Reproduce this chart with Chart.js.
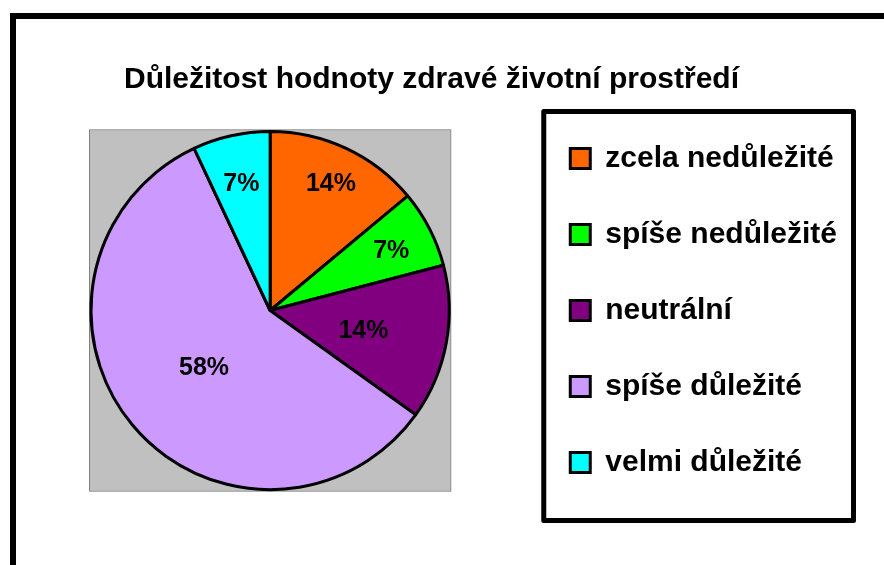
<!DOCTYPE html>
<html>
<head>
<meta charset="utf-8">
<script src="https://cdn.jsdelivr.net/npm/chart.js@4"></script>
<style>
  html, body { margin: 0; padding: 0; background: #fff; }
  #wrap { width: 884px; height: 565px; }
</style>
</head>
<body>
<div id="wrap"><canvas id="chart"></canvas></div>
<script>
const categories = [
  "zcela nedůležité",
  "spíše nedůležité",
  "neutrální",
  "spíše důležité",
  "velmi důležité",
];
// respondent counts (43 total) -> 14%, 7%, 14%, 58%, 7%
const counts = [6, 3, 6, 25, 3];
const sliceColors = ["#FF6600", "#00FF00", "#800080", "#CC99FF", "#00FFFF"];
const chartTitle = "Důležitost hodnoty zdravé životní prostředí";

const FONT = "'Liberation Sans', Arial, sans-serif";

// frame around the whole chart + grey plot area behind the pie
const backdrop = {
  id: "backdrop",
  beforeDraw(chart) {
    const ctx = chart.ctx;
    ctx.save();
    ctx.fillStyle = "#fff";
    ctx.fillRect(0, 0, chart.width, chart.height);
    ctx.lineWidth = 6;
    ctx.strokeStyle = "#000";
    ctx.strokeRect(13, 16, chart.width + 20, chart.height + 20);
    ctx.restore();
  },
  beforeDatasetsDraw(chart) {
    const arc = chart.getDatasetMeta(0).data[0];
    if (!arc) return;
    const r = arc.outerRadius + 1;
    const ctx = chart.ctx;
    ctx.save();
    ctx.fillStyle = "#C0C0C0";
    ctx.fillRect(arc.x - r, arc.y - r, 2 * r, 2 * r);
    ctx.lineWidth = 1;
    ctx.strokeStyle = "#808080";
    ctx.strokeRect(arc.x - r - 0.5, arc.y - r - 0.5, 2 * r + 1, 2 * r + 1);
    ctx.restore();
  },
};

// percentage labels inside the slices
const sliceLabels = {
  id: "sliceLabels",
  afterDatasetsDraw(chart, args, opts) {
    const meta = chart.getDatasetMeta(0);
    const values = chart.data.datasets[0].data;
    const total = values.reduce((a, b) => a + b, 0);
    const ctx = chart.ctx;
    ctx.save();
    ctx.font = "bold 25px " + FONT;
    ctx.fillStyle = "#000";
    ctx.textAlign = "center";
    ctx.textBaseline = "middle";
    meta.data.forEach((arc, i) => {
      const mid = (arc.startAngle + arc.endAngle) / 2;
      const d = arc.outerRadius * opts.radius[i];
      const pct = Math.round((values[i] / total) * 100) + "%";
      ctx.fillText(pct, arc.x + Math.cos(mid) * d, arc.y + Math.sin(mid) * d + 3);
    });
    ctx.restore();
  },
};

// thick box around the legend
const legendFrame = {
  id: "legendFrame",
  afterDraw(chart) {
    const lg = chart.legend;
    const ca = chart.chartArea;
    const cy = (ca.top + ca.bottom) / 2;
    const ctx = chart.ctx;
    ctx.save();
    ctx.lineWidth = 5;
    ctx.lineJoin = "round";
    ctx.strokeStyle = "#000";
    const left = lg.left + 19.5;
    const right = lg.right + 6.5;
    ctx.strokeRect(left, cy - 199, right - left, 409);
    ctx.restore();
  },
};

new Chart(document.getElementById("chart"), {
  type: "pie",
  data: {
    labels: categories,
    datasets: [
      {
        data: counts,
        backgroundColor: sliceColors,
        borderColor: "#000",
        borderWidth: 3,
        hoverOffset: 0,
      },
    ],
  },
  options: {
    responsive: true,
    maintainAspectRatio: false,
    animation: false,
    radius: "83.7%",
    layout: {
      padding: { left: 16, right: 37, top: 65, bottom: 39 },
    },
    plugins: {
      title: {
        display: true,
        text: chartTitle,
        color: "#000",
        font: { family: FONT, size: 30, weight: "bold", lineHeight: 1 },
        padding: { top: 0, bottom: 0 },
      },
      legend: {
        position: "right",
        align: "center",
        fullSize: false,
        labels: {
          color: "#000",
          font: { family: FONT, size: 30, weight: "bold" },
          boxWidth: 20,
          boxHeight: 20,
          padding: 46,
        },
      },
      tooltip: { enabled: false },
      sliceLabels: { radius: [0.8, 0.76, 0.53, 0.48, 0.74] },
    },
  },
  plugins: [backdrop, sliceLabels, legendFrame],
});
</script>
</body>
</html>
